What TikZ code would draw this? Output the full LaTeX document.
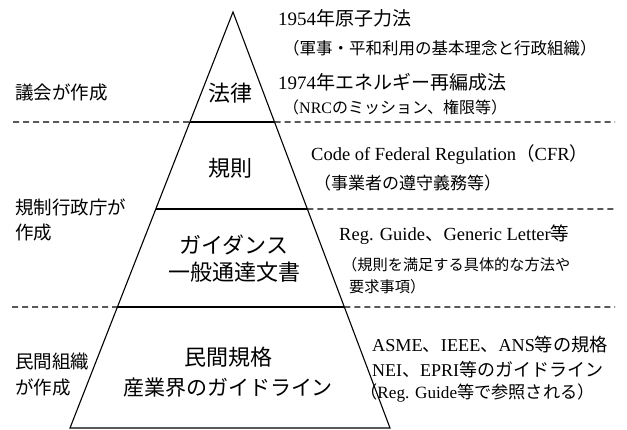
\documentclass[tikz,border=0pt]{standalone}
\usepackage{fontspec}
\setmainfont{Liberation Serif}
\newfontfamily\jp{Noto Sans CJK JP}
\usetikzlibrary{calc}
\newcommand{\fsz}[1]{\fontsize{#1}{#1}\selectfont}
\begin{document}
\begin{tikzpicture}[x=1pt,y=-1pt,
  edge/.style={line width=1.1pt,black},
  dline/.style={line width=1.1pt,dash pattern=on 6pt off 4pt},
  lefttxt/.style={anchor=west,inner sep=0pt,font=\jp\fsz{18.5}},
  intxt/.style={anchor=center,inner sep=0pt,font=\jp\fsz{22}},
  righttxt/.style={anchor=west,inner sep=0pt}]
\useasboundingbox[fill=white] (0,0) rectangle (627,430);
% pyramid
\coordinate (A) at (233,12);
\coordinate (BL) at (70,428);
\coordinate (BR) at (390,428);
\draw[edge,line join=miter] (BL) -- (A) -- (BR) -- cycle;
\coordinate (L1) at ($(A)!0.2644!(BL)$);
\coordinate (R1) at ($(A)!0.2644!(BR)$);
\coordinate (L2) at ($(A)!0.4736!(BL)$);
\coordinate (R2) at ($(A)!0.4736!(BR)$);
\coordinate (L3) at ($(A)!0.7091!(BL)$);
\coordinate (R3) at ($(A)!0.7091!(BR)$);
\draw[edge] (L1) -- (R1);
\draw[edge] (L2) -- (R2);
\draw[edge] (L3) -- (R3);
% dashed separators
\coordinate (D1a) at (13,122);
\coordinate (D1b) at (615,122);
\coordinate (D2b) at (615,209);
\coordinate (D3a) at (12,307);
\coordinate (D3b) at (615,307);
\draw[dline] (D1a) -- (L1);
\draw[dline] (R1) -- (D1b);
\draw[dline] (R2) -- (D2b);
\draw[dline] (D3a) -- (L3);
\draw[dline] (R3) -- (D3b);
% left labels
\node[lefttxt] (g1) at (15,92) {議会が作成};
\node[lefttxt] (g2a) at (15,207) {規制行政庁が};
\node[lefttxt] (g2b) at (15,233) {作成};
\node[lefttxt] (g3a) at (15,362) {民間組織};
\node[lefttxt] (g3b) at (15,387) {が作成};
% inside labels
\node[intxt] (p1) at (230,93) {法律};
\node[intxt] (p2) at (230,168) {規則};
\node[intxt] (p3a) at (234,245) {ガイダンス};
\node[intxt] (p3b) at (234,272) {一般通達文書};
\node[intxt] (p4a) at (228,357) {民間規格};
\node[intxt,font=\jp\fsz{21}] (p4b) at (228,388) {産業界のガイドライン};
% right labels
\node[righttxt,font=\fsz{19}] (r1) at (278,18) {1954{\jp 年原子力法}};
\node[righttxt,font=\jp\fsz{16.5}] (r2) at (283,48) {（軍事・平和利用の基本理念と行政組織）};
\node[righttxt,font=\fsz{19}] (r3) at (278,82) {1974{\jp 年エネルギー再編成法}};
\node[righttxt,font=\fsz{16}] (r4) at (283,107) {{\jp （}NRC{\jp のミッション、権限等）}};
\node[righttxt,font=\fsz{18.5}] (r5) at (311,155) {Code of Federal Regulation{\jp （}CFR{\jp ）}};
\node[righttxt,font=\jp\fsz{17}] (r6) at (314,183) {（事業者の遵守義務等）};
\node[righttxt,font=\fsz{18.5}] (r7) at (339,235) {Reg. Guide{\jp 、}Generic Letter{\jp 等}};
\node[righttxt,font=\jp\fsz{15.2}] (r8) at (342,265) {（規則を満足する具体的な方法や};
\node[righttxt,font=\jp\fsz{15.2}] (r9) at (349,287) {要求事項）};
\node[righttxt,font=\fsz{18.2}] (r10) at (372,345) {ASME{\jp 、}IEEE{\jp 、}ANS{\jp 等の規格}};
\node[righttxt,font=\fsz{18}] (r11) at (372,370) {NEI{\jp 、}EPRI{\jp 等のガイドライン}};
\node[righttxt,font=\fsz{17.2}] (r12) at (360,393) {{\jp （}Reg. Guide{\jp 等で参照される）}};
\end{tikzpicture}
\end{document}
